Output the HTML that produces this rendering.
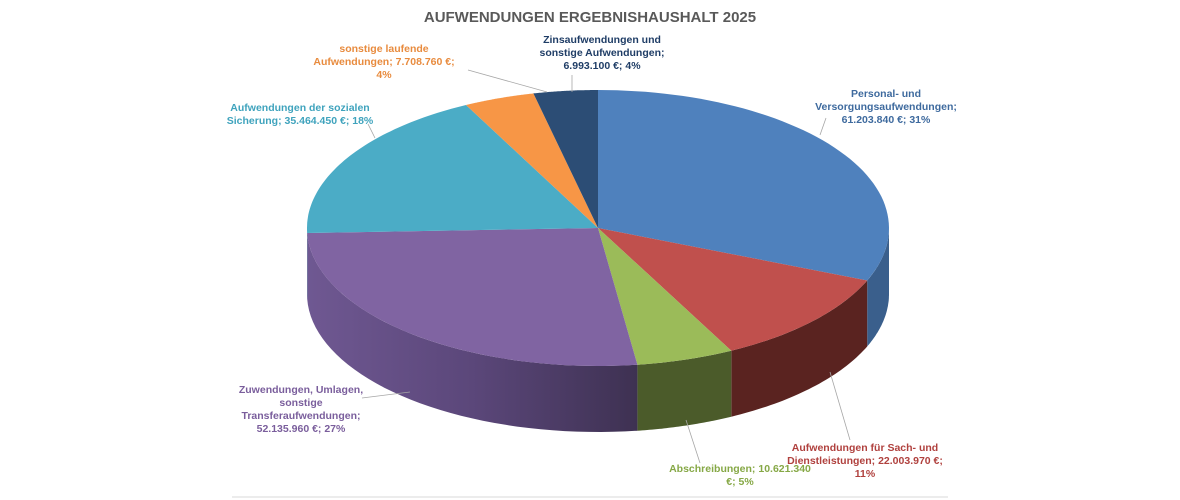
<!DOCTYPE html>
<html><head><meta charset="utf-8"><style>
html,body{margin:0;padding:0;background:#fff;}
svg{display:block;font-family:"Liberation Sans",sans-serif;}
.lbl{font-size:10.5px;font-weight:bold;text-anchor:middle;}
</style></head><body>
<svg id="chart" width="1180" height="500" viewBox="0 0 1180 500">
<defs>
<linearGradient id="gPurple" x1="0" x2="1" y1="0" y2="0"><stop offset="0" stop-color="#6f5892"/><stop offset="0.5" stop-color="#5b477a"/><stop offset="1" stop-color="#3e3152"/></linearGradient>
</defs>
<text x="590" y="22" text-anchor="middle" font-size="15" font-weight="bold" fill="#595959">AUFWENDUNGEN ERGEBNISHAUSHALT 2025</text>
<g id="sides"></g><g id="tops"></g><g id="labels"></g>
<line x1="232" y1="497" x2="948" y2="497" stroke="#d9d9d9" stroke-width="1"/>
</svg>
<script>
const categories=["Personal- und Versorgungsaufwendungen","Aufwendungen für Sach- und Dienstleistungen","Abschreibungen","Zuwendungen, Umlagen, sonstige Transferaufwendungen","Aufwendungen der sozialen Sicherung","sonstige laufende Aufwendungen","Zinsaufwendungen und sonstige Aufwendungen"];
const values=[61203840,22003970,10621340,52135960,35464450,7708760,6993100];
const colors=["#4f81bd","#c0504d","#9bbb59","#8064a2","#4bacc6","#f79646","#2c4d75"];
const sideColors=["#3a5f8c","#5a2320","#4b5b2a","url(#gPurple)","#327e92","#b56d32","#1f3754"];
const labelLines=[
 ["Personal- und","Versorgungsaufwendungen;","61.203.840 €; 31%"],
 ["Aufwendungen für Sach- und","Dienstleistungen; 22.003.970 €;","11%"],
 ["Abschreibungen; 10.621.340","€; 5%"],
 ["Zuwendungen, Umlagen,","sonstige","Transferaufwendungen;","52.135.960 €; 27%"],
 ["Aufwendungen der sozialen","Sicherung; 35.464.450 €; 18%"],
 ["sonstige laufende","Aufwendungen; 7.708.760 €;","4%"],
 ["Zinsaufwendungen und","sonstige Aufwendungen;","6.993.100 €; 4%"]];
const labelPos=[[886,97],[865,451],[740,472],[301,393],[300,111],[384,52],[602,43]];
const lineEnds=[[826,118,820,135],[850,440,830,372],[700,463,686,420],[362,398,410,392],[368,124,375,138],[468,70,547,92],[572,75,572,92]];
const labelColors=["#3e6a9e","#b0413e","#86a846","#7a5e9c","#3fa3bd","#e88b3e","#1f3d66"];
const cx=598,cy=228,rx=291,ry=138,depth=66;
const total=values.reduce((a,b)=>a+b,0);
function pt(a,dy){return [cx+rx*Math.sin(a),cy-ry*Math.cos(a)+(dy||0)];}
const NS="http://www.w3.org/2000/svg";
const sides=document.getElementById('sides'),tops=document.getElementById('tops'),labels=document.getElementById('labels');
let start=0;
values.forEach((v,i)=>{
 const end=start+v/total*2*Math.PI;
 const s=Math.max(start,Math.PI/2),e=Math.min(end,3*Math.PI/2);
 if(e>s){
  let d="";const n=40;
  for(let k=0;k<=n;k++){const p=pt(s+(e-s)*k/n);d+=(k?"L":"M")+p[0].toFixed(1)+","+p[1].toFixed(1);}
  for(let k=n;k>=0;k--){const p=pt(s+(e-s)*k/n,depth);d+="L"+p[0].toFixed(1)+","+p[1].toFixed(1);}
  const sp=document.createElementNS(NS,'path');sp.setAttribute('d',d+"Z");sp.setAttribute('fill',sideColors[i]);
  
  
  sides.appendChild(sp);
 }
 let d="M"+cx+","+cy;const n=60;
 for(let k=0;k<=n;k++){const p=pt(start+(end-start)*k/n);d+="L"+p[0].toFixed(1)+","+p[1].toFixed(1);}
 const tp=document.createElementNS(NS,'path');tp.setAttribute('d',d+"Z");tp.setAttribute('fill',colors[i]);
 
 
 tops.appendChild(tp);
 const lp=labelPos[i],le=lineEnds[i];
 const ln=document.createElementNS(NS,'line');
 ln.setAttribute('x1',le[0]);ln.setAttribute('y1',le[1]);ln.setAttribute('x2',le[2]);ln.setAttribute('y2',le[3]);
 ln.setAttribute('stroke','#a6a6a6');ln.setAttribute('stroke-width','0.8');
 
 
 labels.appendChild(ln);
 const t=document.createElementNS(NS,'text');t.setAttribute('class','lbl');t.setAttribute('fill',labelColors[i]);
 
 
 labelLines[i].forEach((s2,j)=>{const ts=document.createElementNS(NS,'tspan');ts.setAttribute('x',lp[0]);ts.setAttribute('y',lp[1]+j*13);ts.textContent=s2;t.appendChild(ts);});
 labels.appendChild(t);
 start=end;
});
</script>
</body></html>
